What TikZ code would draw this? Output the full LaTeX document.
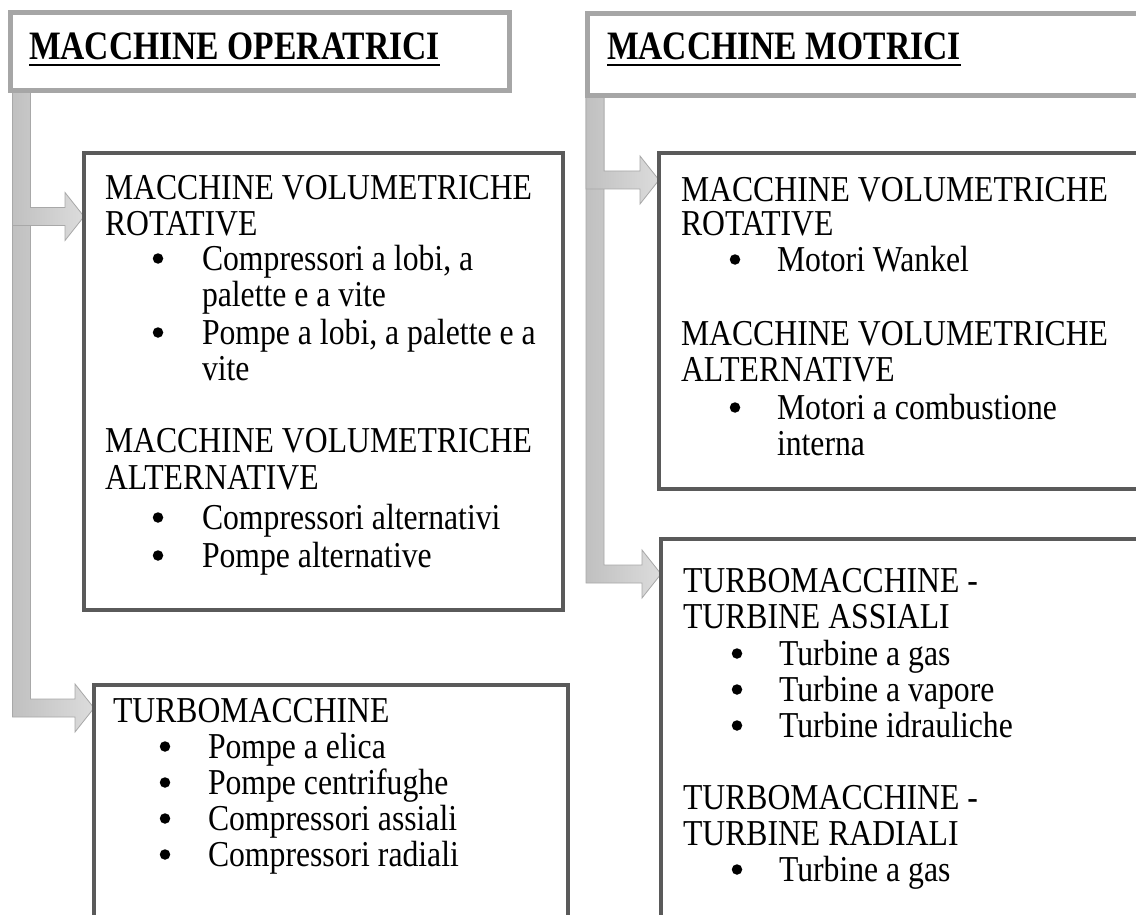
\documentclass[tikz,border=0pt]{standalone}
\usepackage{fontspec}
\setmainfont{Liberation Serif}
\usepackage{graphicx}
\definecolor{hdrgray}{RGB}{166,166,166}
\definecolor{boxgray}{RGB}{90,90,90}
\definecolor{baredge}{RGB}{168,168,168}
\definecolor{barL}{RGB}{192,192,192}
\definecolor{barR}{RGB}{220,220,220}
\newcommand\vs[1]{\scalebox{1}[1.15]{#1}}
\newcommand\hs[1]{\scalebox{1}[1.2]{#1}}
\tikzset{
 hdrbox/.style={draw=hdrgray, line width=5pt, fill=white, inner sep=0pt, outer sep=0pt, anchor=north west},
 listbox/.style={draw=boxgray, line width=4pt, fill=white, inner sep=0pt, outer sep=0pt, anchor=north west},
 txt/.style={anchor=base west, inner sep=0pt, outer sep=0pt, font=\fontsize{31.7}{36}\selectfont},
 hdrtxt/.style={anchor=base west, inner sep=0pt, outer sep=0pt, font=\fontsize{33.6}{38}\selectfont\bfseries},
 bul/.style={circle, fill=black, inner sep=0pt, outer sep=0pt, minimum size=10.5pt},
 arrowbody/.style={draw=baredge, line width=0.8pt, left color=barL, right color=barR},
 uline/.style={line width=2.6pt},
}
\newcommand\tline[4]{\node[txt] (#1) at (#2,#3) {\vs{#4}};}
\newcommand\bline[5]{\node[bul] (#1b) at (#2,#4-11.5) {}; \node[txt] (#1) at (#3,#4) {\vs{#5}};}
% #1 bar left x, #2 top y, #3 arrow centre y, #4 tip x
\newcommand\elbowarrow[4]{%
  \path[arrowbody] (#1,#2) -- (#1+18,#2) -- (#1+18,#3-9) -- (#4-19,#3-9) -- (#4-19,#3-24)
    -- (#4,#3) -- (#4-19,#3+24) -- (#4-19,#3+9) -- (#1,#3+9) -- cycle;}
\begin{document}
\begin{tikzpicture}[x=1pt,y=-1pt]
\useasboundingbox (0,0) rectangle (1136,915);
\clip (0,0) rectangle (1136,915);
\fill[white] (0,0) rectangle (1136,915);

% connectors
\elbowarrow{12.5}{88}{708}{94}
\elbowarrow{12.5}{88}{216.5}{84}
\elbowarrow{586}{94}{574}{661}
\elbowarrow{586}{94}{180}{659}

% headers
\node[hdrbox, minimum width=499.5pt, minimum height=78pt] (hL) at (10,12.5) {};
\node[hdrbox, minimum width=583pt, minimum height=82.5pt] (hR) at (587,13.5) {};
\node[hdrtxt] (hLt) at (29,60) {\hs{MACCHINE OPERATRICI}};
\node[hdrtxt] (hRt) at (607,60) {\hs{MACCHINE MOTRICI}};
\draw[uline] ([yshift=-5pt]hLt.base west) -- ([yshift=-5pt]hLt.base east);
\draw[uline] ([yshift=-5pt]hRt.base west) -- ([yshift=-5pt]hRt.base east);

% boxes
\node[listbox, minimum width=479pt, minimum height=457pt] (lb1) at (84,153) {};
\node[listbox, minimum width=474pt, minimum height=265pt] (lb2) at (94,685) {};
\node[listbox, minimum width=511pt, minimum height=336pt] (rb1) at (659,153) {};
\node[listbox, minimum width=509pt, minimum height=411pt] (rb2) at (661,539) {};

% left box 1
\tline{a1}{105}{200}{MACCHINE VOLUMETRICHE}
\tline{a2}{105}{235}{ROTATIVE}
\bline{a3}{158}{202}{270}{Compressori a lobi, a}
\tline{a4}{202}{306}{palette e a vite}
\bline{a5}{158}{202}{344}{Pompe a lobi, a palette e a}
\tline{a6}{202}{380}{vite}
\tline{a7}{105}{452}{MACCHINE VOLUMETRICHE}
\tline{a8}{105}{489}{ALTERNATIVE}
\bline{a9}{158}{202}{529}{Compressori alternativi}
\bline{a10}{158}{202}{567}{Pompe alternative}

% left box 2
\tline{b1}{113}{722}{TURBOMACCHINE}
\bline{b2}{165}{208}{758}{Pompe a elica}
\bline{b3}{165}{208}{794}{Pompe centrifughe}
\bline{b4}{165}{208}{830}{Compressori assiali}
\bline{b5}{165}{208}{866}{Compressori radiali}

% right box 1
\tline{c1}{681}{201}{MACCHINE VOLUMETRICHE}
\tline{c2}{681}{236}{ROTATIVE}
\bline{c3}{735}{777}{271}{Motori Wankel}
\tline{c4}{681}{345}{MACCHINE VOLUMETRICHE}
\tline{c5}{681}{381}{ALTERNATIVE}
\bline{c6}{735}{777}{419}{Motori a combustione}
\tline{c7}{777}{455}{interna}

% right box 2
\tline{d1}{683}{592}{TURBOMACCHINE -}
\tline{d2}{683}{628}{TURBINE ASSIALI}
\bline{d3}{737}{779}{665}{Turbine a gas}
\bline{d4}{737}{779}{701}{Turbine a vapore}
\bline{d5}{737}{779}{737}{Turbine idrauliche}
\tline{d6}{683}{809}{TURBOMACCHINE -}
\tline{d7}{683}{845}{TURBINE RADIALI}
\bline{d8}{737}{779}{881}{Turbine a gas}
\end{tikzpicture}
\end{document}
